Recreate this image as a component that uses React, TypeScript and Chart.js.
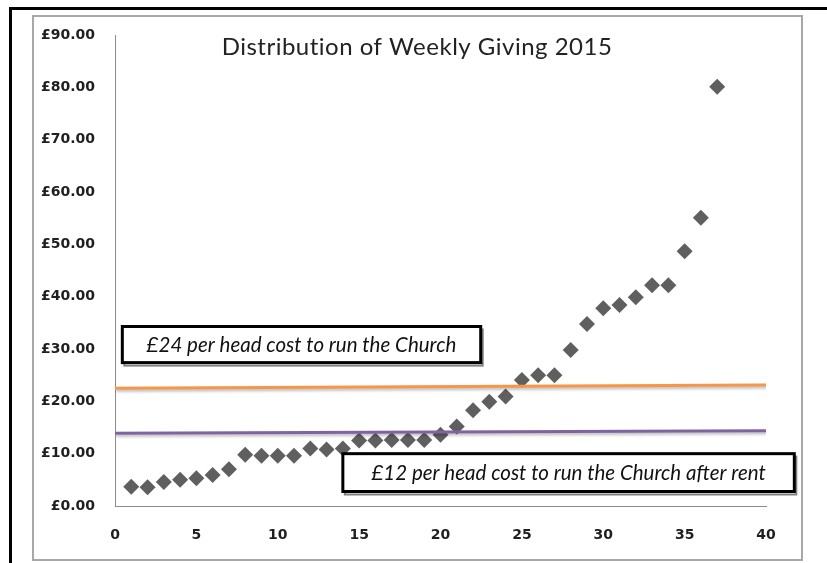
import { useEffect, useRef } from "react";
import { Chart, registerables } from "chart.js";

Chart.register(...registerables);

// ---- data ----
const donorIndex = [
  1, 2, 3, 4, 5, 6, 7, 8, 9, 10, 11, 12, 13, 14, 15, 16, 17, 18, 19, 20,
  21, 22, 23, 24, 25, 26, 27, 28, 29, 30, 31, 32, 33, 34, 35, 36, 37,
];
const weeklyGiving = [
  3.7, 3.6, 4.6, 5.0, 5.3, 5.9, 7.0, 9.8, 9.6, 9.6, 9.6, 11.0, 10.8, 11.0,
  12.5, 12.5, 12.6, 12.6, 12.6, 13.6, 15.2, 18.3, 19.9, 20.9, 24.1, 25.0,
  25.0, 29.8, 34.8, 37.8, 38.4, 39.9, 42.2, 42.2, 48.7, 55.1, 80.1,
];
const costLineX = [0, 40];
const costFullY = [22.5, 23.1];
const costAfterRentY = [13.9, 14.4];

const titleText = "Distribution of Weekly Giving 2015";
const noteFull = "£24 per head cost to run the Church";
const noteAfterRent = "£12 per head cost to run the Church after rent";

const xTickStep = 5;
const yTickStep = 10;

export default function App() {
  const ref = useRef<HTMLCanvasElement | null>(null);

  useEffect(() => {
    if (!ref.current) return;

    const notes = [
      { text: noteFull, x0: 0.45, x1: 22.47, y0: 34.3, y1: 27.4 },
      { text: noteAfterRent, x0: 14.0, x1: 41.74, y0: 10.0, y1: 2.77 },
    ];

    const decor = {
      id: "decor",
      beforeDraw(chart: any) {
        const ctx = chart.ctx as CanvasRenderingContext2D;
        ctx.save();
        ctx.fillStyle = "#ffffff";
        ctx.fillRect(0, 0, chart.width, chart.height);
        // outer black frame (top & left)
        ctx.fillStyle = "#000000";
        ctx.fillRect(9, 7, chart.width - 9, 3);
        ctx.fillRect(9, 7, 3, chart.height - 7);
        // inner gray border
        ctx.strokeStyle = "#a8a8a8";
        ctx.lineWidth = 2;
        ctx.strokeRect(33, 16, 769, 544);
        ctx.restore();
      },
      beforeDatasetDraw(chart: any, args: any) {
        const ctx = chart.ctx as CanvasRenderingContext2D;
        ctx.save();
        if (args.index < 2) {
          ctx.shadowColor = "rgba(0,0,0,0.28)";
          ctx.shadowBlur = 3;
          ctx.shadowOffsetX = 1;
          ctx.shadowOffsetY = 2;
        }
      },
      afterDatasetDraw(chart: any) {
        chart.ctx.restore();
      },
      afterDraw(chart: any) {
        const ctx = chart.ctx as CanvasRenderingContext2D;
        const xs = chart.scales.x;
        const ys = chart.scales.y;
        ctx.save();
        // title
        ctx.fillStyle = "#222222";
        ctx.font = "24px Lato";
        (ctx as any).letterSpacing = "0.5px";
        ctx.textAlign = "center";
        ctx.textBaseline = "middle";
        ctx.fillText(titleText, 417, 47);
        (ctx as any).letterSpacing = "0px";
        // note boxes
        for (const n of notes) {
          const l = xs.getPixelForValue(n.x0);
          const r = xs.getPixelForValue(n.x1);
          const t = ys.getPixelForValue(n.y0);
          const b = ys.getPixelForValue(n.y1);
          ctx.strokeStyle = "#808080";
          ctx.lineWidth = 2;
          ctx.strokeRect(l + 2, t + 3, r - l, b - t);
          ctx.fillStyle = "#ffffff";
          ctx.fillRect(l, t, r - l, b - t);
          ctx.strokeStyle = "#000000";
          ctx.lineWidth = 3;
          ctx.strokeRect(l, t, r - l, b - t);
          ctx.fillStyle = "#111111";
          ctx.font = "italic 20.5px Lato";
          ctx.textAlign = "center";
          ctx.textBaseline = "middle";
          ctx.fillText(n.text, (l + r) / 2, (t + b) / 2 + 1);
        }
        ctx.restore();
      },
    };

    const tickFont = { family: "DejaVu Sans", size: 14, weight: "bold" as const };

    const chart = new Chart(ref.current, {
      type: "scatter",
      data: {
        datasets: [
          {
            label: "£24 per head",
            data: costLineX.map((x, i) => ({ x, y: costFullY[i] })),
            showLine: true,
            borderColor: "#F79646",
            borderWidth: 3,
            pointRadius: 0,
            fill: false,
          },
          {
            label: "£12 per head",
            data: costLineX.map((x, i) => ({ x, y: costAfterRentY[i] })),
            showLine: true,
            borderColor: "#8064A2",
            borderWidth: 3,
            pointRadius: 0,
            fill: false,
          },
          {
            label: "Weekly giving",
            data: donorIndex.map((x, i) => ({ x, y: weeklyGiving[i] })),
            pointStyle: "rectRot",
            pointRadius: 8,
            pointBackgroundColor: "#5f5f5f",
            pointBorderWidth: 0,
            showLine: false,
          },
        ],
      },
      options: {
        responsive: false,
        animation: false,
        events: [],
        layout: { padding: { top: 35, right: 61, bottom: 0, left: 0 } },
        plugins: {
          legend: { display: false },
          tooltip: { enabled: false },
          title: { display: false },
        },
        scales: {
          x: {
            type: "linear",
            min: 0,
            max: 40,
            grid: { display: false, drawTicks: false },
            border: { display: true, color: "#8c8c8c", width: 1 },
            ticks: {
              stepSize: xTickStep,
              color: "#1f1f1f",
              font: tickFont,
              padding: 21,
            },
            afterFit: (s: any) => {
              s.height = 57;
            },
          },
          y: {
            type: "linear",
            min: 0,
            max: 90,
            grid: { display: false, drawTicks: false },
            border: { display: true, color: "#8c8c8c", width: 1 },
            ticks: {
              stepSize: yTickStep,
              color: "#1f1f1f",
              font: tickFont,
              padding: 20,
              callback: (v: any) => "£" + Number(v).toFixed(2),
            },
            afterFit: (s: any) => {
              s.width = 115;
            },
          },
        },
      },
      plugins: [decor],
    });

    return () => chart.destroy();
  }, []);

  return (
    <div
      style={{
        position: "fixed",
        left: 0,
        top: 0,
        width: 827,
        height: 563,
        background: "#fff",
      }}
    >
      <canvas ref={ref} width={827} height={563} style={{ display: "block" }} />
    </div>
  );
}
